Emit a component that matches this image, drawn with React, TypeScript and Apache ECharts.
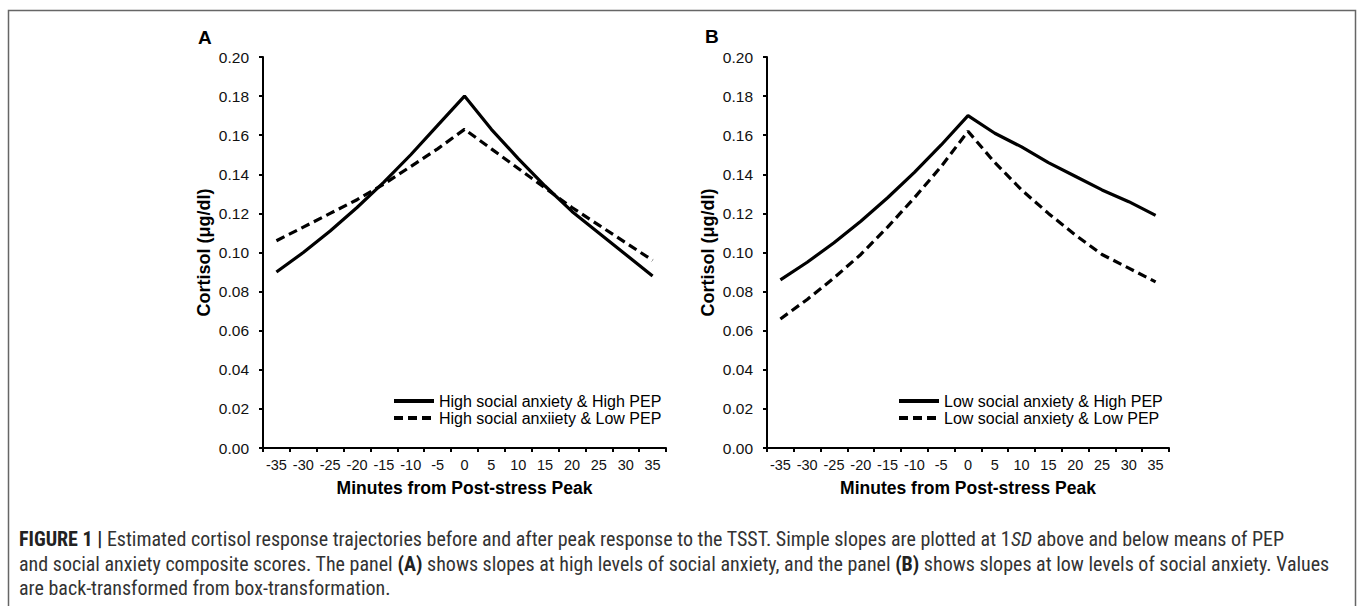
import React, { useEffect, useRef } from "react";
import * as echarts from "echarts";

const minutes = ["-35", "-30", "-25", "-20", "-15", "-10", "-5", "0", "5", "10", "15", "20", "25", "30", "35"];
const highAnxHighPEP = [0.090, 0.100, 0.111, 0.123, 0.136, 0.150, 0.165, 0.180, 0.163, 0.148, 0.134, 0.121, 0.110, 0.099, 0.088];
const highAnxLowPEP = [0.106, 0.113, 0.120, 0.127, 0.135, 0.144, 0.153, 0.163, 0.153, 0.143, 0.133, 0.123, 0.114, 0.105, 0.096];
const lowAnxHighPEP = [0.086, 0.095, 0.105, 0.116, 0.128, 0.141, 0.155, 0.170, 0.161, 0.154, 0.146, 0.139, 0.132, 0.126, 0.119];
const lowAnxLowPEP = [0.066, 0.076, 0.087, 0.099, 0.113, 0.128, 0.144, 0.162, 0.146, 0.132, 0.120, 0.109, 0.099, 0.092, 0.085];
const seriesNames = [
  "High social anxiety & High PEP",
  "High social anxiiety & Low PEP",
  "Low social anxiety & High PEP",
  "Low social anxiety & Low PEP",
];
const yMin = 0;
const yMax = 0.2;
const yStep = 0.02;
const xTitle = "Minutes from Post-stress Peak";
const yTitle = "Cortisol (μg/dl)";
const captionLines = [
  "{b|FIGURE 1 |} Estimated cortisol response trajectories before and after peak response to the TSST. Simple slopes are plotted at 1{i|SD} above and below means of PEP",
  "and social anxiety composite scores. The panel {b|(A)} shows slopes at high levels of social anxiety, and the panel {b|(B)} shows slopes at low levels of social anxiety. Values",
  "are back-transformed from box-transformation.",
];

const FONT = "Arial, 'Liberation Sans', Helvetica, sans-serif";
const CAP_FONT = "'Liberation Sans Narrow', 'Roboto Condensed', 'DejaVu Sans Condensed', Arial, sans-serif";
const CAP_SIZE = 20;

function xAxis(gridIndex: number) {
  return {
    type: "category",
    gridIndex,
    data: minutes,
    boundaryGap: true,
    axisLine: { lineStyle: { color: "#000", width: 2 } },
    axisTick: { show: true, length: 4, lineStyle: { color: "#000", width: 2 }, alignWithLabel: false },
    axisLabel: { interval: 0, color: "#111", fontSize: 14.5, fontFamily: FONT, margin: 9 },
    name: xTitle,
    nameLocation: "middle",
    nameGap: 31,
    nameTextStyle: { fontWeight: "bold", fontSize: 17.5, color: "#000", fontFamily: FONT },
    splitLine: { show: false },
  };
}

function yAxis(gridIndex: number) {
  return {
    type: "value",
    gridIndex,
    min: yMin,
    max: yMax,
    interval: yStep,
    axisLine: { show: true, lineStyle: { color: "#000", width: 2 } },
    axisTick: { show: true, length: 4, lineStyle: { color: "#000", width: 2 } },
    axisLabel: {
      color: "#111",
      fontSize: 15.5,
      fontFamily: FONT,
      margin: 14,
      formatter: (v: number) => v.toFixed(2),
    },
    splitLine: { show: false },
    name: yTitle,
    nameLocation: "middle",
    nameGap: 50,
    nameTextStyle: { fontWeight: "bold", fontSize: 18, color: "#000", fontFamily: FONT },
  };
}

function lineSeries(name: string, data: number[], idx: number, dashed: boolean) {
  return {
    type: "line",
    name,
    xAxisIndex: idx,
    yAxisIndex: idx,
    data,
    symbol: "none",
    showSymbol: false,
    lineStyle: { color: "#000", width: 3.2, type: dashed ? [9, 5] : "solid" },
    itemStyle: { color: "#000" },
  };
}

export default function App() {
  const ref = useRef<HTMLDivElement>(null);
  useEffect(() => {
    if (!ref.current) return;
    const chart = echarts.init(ref.current, undefined, { renderer: "svg" });
    const legendCommon = {
      orient: "vertical",
      itemWidth: 40,
      itemHeight: 14,
      itemGap: 1,
      padding: 0,
      itemStyle: { opacity: 0 },
      lineStyle: { width: 4 },
      textStyle: { fontSize: 16, color: "#000", fontFamily: FONT },
    };
    chart.setOption({
      animation: false,
      backgroundColor: "#fff",
      grid: [
        { left: 263, top: 57, width: 403, height: 391 },
        { left: 767, top: 57, width: 402, height: 391 },
      ],
      xAxis: [xAxis(0), xAxis(1)],
      yAxis: [yAxis(0), yAxis(1)],
      legend: [
        { ...legendCommon, left: 392, top: 393, data: [seriesNames[0], seriesNames[1]] },
        { ...legendCommon, left: 897, top: 393, data: [seriesNames[2], seriesNames[3]] },
      ],
      series: [
        lineSeries(seriesNames[0], highAnxHighPEP, 0, false),
        lineSeries(seriesNames[1], highAnxLowPEP, 0, true),
        lineSeries(seriesNames[2], lowAnxHighPEP, 1, false),
        lineSeries(seriesNames[3], lowAnxLowPEP, 1, true),
      ],
      graphic: [
        {
          type: "rect",
          shape: { x: 8.5, y: 10.5, width: 1347, height: 610 },
          style: { fill: "none", stroke: "#666", lineWidth: 1.5 },
          silent: true,
        },
        {
          type: "text",
          x: 198,
          y: 28,
          style: { text: "A", font: `bold 19px ${FONT}`, fill: "#000" },
        },
        {
          type: "text",
          x: 705,
          y: 27,
          style: { text: "B", font: `bold 19px ${FONT}`, fill: "#000" },
        },
        ...captionLines.map((t, i) => ({
          type: "text",
          x: 19,
          y: 529 + i * 24.5,
          style: {
            text: t,
            font: `${CAP_SIZE}px ${CAP_FONT}`,
            fill: "#333",
            rich: {
              b: { fontWeight: "bold", fontSize: CAP_SIZE, fontFamily: CAP_FONT, fill: "#222" },
              i: { fontStyle: "italic", fontSize: CAP_SIZE, fontFamily: CAP_FONT, fill: "#333" },
            },
          },
        })),
      ],
    });
    return () => chart.dispose();
  }, []);
  return (
    <div
      ref={ref}
      style={{ position: "fixed", left: 0, top: 0, width: 1360, height: 606, background: "#fff" }}
    />
  );
}
